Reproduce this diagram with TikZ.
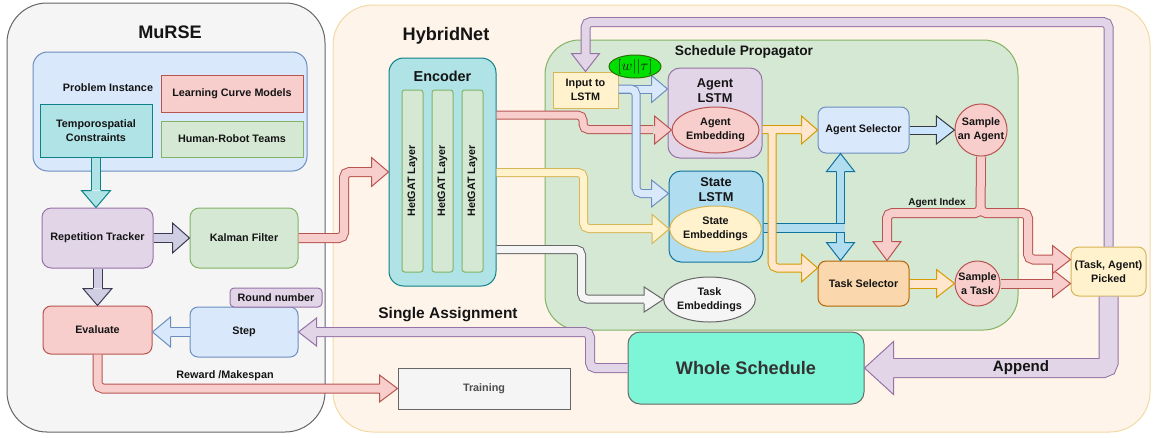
\documentclass[tikz,border=0pt]{standalone}
\usepackage{fontspec}
\setmainfont{Liberation Sans}
\usetikzlibrary{shapes.geometric,calc}

\definecolor{txt}{HTML}{141414}
\definecolor{gtxt}{HTML}{4D4D4D}
\definecolor{grF}{HTML}{F5F5F5}
\definecolor{grD}{HTML}{666666}
\definecolor{hyF}{HTML}{FFF4E9}
\definecolor{hyD}{HTML}{F3D9A4}
\definecolor{blueF}{HTML}{DAE8FC}
\definecolor{blueD}{HTML}{6C8EBF}
\definecolor{redF}{HTML}{F8CECC}
\definecolor{redD}{HTML}{B85450}
\definecolor{greenF}{HTML}{D5E8D4}
\definecolor{greenD}{HTML}{82B366}
\definecolor{tealF}{HTML}{B0E3E6}
\definecolor{tealD}{HTML}{0E8088}
\definecolor{purF}{HTML}{E1D5E7}
\definecolor{purD}{HTML}{9673A6}
\definecolor{yelF}{HTML}{FFF2CC}
\definecolor{yelD}{HTML}{D6B656}
\definecolor{oraF}{HTML}{FFE6CC}
\definecolor{oraD}{HTML}{D79B00}
\definecolor{tsF}{HTML}{FAD7AC}
\definecolor{tsD}{HTML}{B46504}
\definecolor{stF}{HTML}{B1DDF0}
\definecolor{stD}{HTML}{10739E}
\definecolor{lavF}{HTML}{D0CEE2}
\definecolor{lavD}{HTML}{3C3A52}
\definecolor{selF}{HTML}{CCE5FF}
\definecolor{selD}{HTML}{36393D}
\definecolor{wsF}{HTML}{7DF6D7}
\definecolor{wsT}{HTML}{333333}
\definecolor{wtF}{HTML}{00E000}
\definecolor{wtD}{HTML}{2D6E0A}

\newcommand\lbl{\fontsize{8.1}{10.5}\selectfont\bfseries}
% fat connector body: outline pass, then fill pass (#1 fill, #2 outline, #3 width in px, #4 path)
\newcommand\shaft[4]{%
  \draw[#2,line width=#3*0.75pt,rounded corners=4pt] #4;
  \draw[#1,line width=#3*0.75pt-1.5pt,rounded corners=4pt] #4;}
% block arrow head (#1 fill, #2 outline, #3 tip, #4 direction, #5 length, #6 half width, #7 half body width)
\newcommand\bhead[7]{%
  \begin{scope}[shift={#3},rotate=#4]
    \fill[#1] (0,0) -- (-#5,#6) -- (-#5,-#6) -- cycle;
    \draw[#2,line width=0.75pt,line join=miter] (-#5,#7) -- (-#5,#6) -- (0,0) -- (-#5,-#6) -- (-#5,-#7);
  \end{scope}}

\begin{document}
\begin{tikzpicture}[x=0.75pt,y=-0.75pt,
  box/.style={draw, align=center, inner sep=0pt, font=\lbl, text=txt, line width=0.75pt},
  sz/.style 2 args={minimum width=#1*0.75pt, minimum height=#2*0.75pt},
  lab/.style={font=\lbl, text=txt, align=center, inner sep=0pt},
  ttl/.style={font=\fontsize{13.6}{16}\selectfont\bfseries, text=txt, inner sep=0pt},
  sub/.style={font=\fontsize{9.6}{11.3}\selectfont\bfseries, text=txt, align=center, inner sep=0pt}]
\useasboundingbox (0,0) rectangle (1155,437);

% containers
\node[box, sz={318}{429}, fill=grF, draw=grD, rounded corners=30pt] (murse) at (166,217.5) {};
\node[ttl] (murseT) at (170,32) {MuRSE};
\node[box, sz={817}{427}, fill=hyF, draw=hyD, rounded corners=30pt] (hyb) at (741.5,218.5) {};
\node[ttl] (hybT) at (446,36) {HybridNet};

% MuRSE
\node[box, sz={274}{119}, fill=blueF, draw=blueD, rounded corners=11pt] (pi) at (170,111.5) {};
\node[lab] (piT) at (108,88) {Problem Instance};
\node[box, sz={142}{37}, fill=redF, draw=redD] (lcm) at (232,93.5) {Learning Curve Models};
\node[box, sz={142}{36}, fill=greenF, draw=greenD] (hrt) at (232,139) {Human-Robot Teams};
\node[box, sz={112}{53}, fill=tealF, draw=tealD] (tc) at (96,130.5) {Temporospatial\\Constraints};
\node[box, sz={111}{60}, fill=purF, draw=purD, rounded corners=7pt] (rt) at (97.5,238) {Repetition Tracker};
\node[box, sz={108}{60}, fill=greenF, draw=greenD, rounded corners=7pt] (kf) at (244,238) {Kalman Filter};
\node[box, sz={109}{48}, fill=redF, draw=redD, rounded corners=6pt] (ev) at (97.5,330) {Evaluate};
\node[box, sz={108}{50}, fill=blueF, draw=blueD, rounded corners=6pt] (st) at (244,332) {Step};
\node[box, sz={92}{19}, fill=purF, draw=purD, rounded corners=3pt] (rn) at (276,297.5) {Round number};
\node[box, sz={172}{41}, fill=grF, draw=grD, text=gtxt] (tr) at (484,388.5) {Training};

% encoder
\node[box, sz={107}{228}, fill=tealF, draw=tealD, rounded corners=11pt] (enc) at (442.5,172) {};
\node[font=\fontsize{10.8}{13}\selectfont\bfseries, text=txt, inner sep=0pt] (encT) at (442.5,76) {Encoder};
\foreach \i/\x in {1/412.5,2/442.5,3/472.5}
  \node[box, rotate=90, sz={182}{21}, fill=greenF, draw=greenD, rounded corners=2pt] (hg\i) at (\x,181) {HetGAT Layer};

% schedule propagator
\node[box, sz={473}{290}, fill=greenF, draw=greenD, rounded corners=26pt] (sp) at (781.5,185) {};
\node[font=\fontsize{10.3}{12}\selectfont\bfseries, text=txt, inner sep=0pt] (spT) at (744,52) {Schedule Propagator};
\node[box, sz={65}{36}, fill=yelF, draw=yelD] (in) at (585.5,90) {Input to\\LSTM};
\node[box, sz={94}{90}, fill=purF, draw=purD, rounded corners=9pt] (al) at (715,113) {};
\node[sub] (alT) at (715,90.5) {Agent\\LSTM};
\node[box, ellipse, sz={87}{46}, fill=redF, draw=redD] (ae) at (715.5,130) {Agent\\Embedding};
\node[box, sz={94}{91}, fill=stF, draw=stD, rounded corners=9pt] (sl) at (716,216.5) {};
\node[sub] (slT) at (716,189.5) {State\\LSTM};
\node[box, ellipse, sz={87}{46}, fill=yelF, draw=yelD] (se) at (715.5,229) {State\\Embeddings};
\node[box, ellipse, sz={85}{45}, fill=grF, draw=grD] (te) at (709.5,299.5) {Task\\Embeddings};
\node[box, sz={91}{46}, fill=blueF, draw=blueD, rounded corners=6pt] (as) at (863.5,130) {Agent Selector};
\node[box, circle, minimum size=52*0.75pt, fill=redF, draw=redD] (sa) at (981,130) {Sample\\an Agent};
\node[box, sz={91}{45}, fill=tsF, draw=tsD, rounded corners=6pt] (ts) at (863.5,283.5) {Task Selector};
\node[box, circle, minimum size=45*0.75pt, fill=redF, draw=redD] (sk) at (977.5,283.5) {Sample\\a Task};
\node[box, sz={75}{49}, fill=yelF, draw=yelD, rounded corners=6pt] (pk) at (1108.5,271.5) {(Task, Agent)\\Picked};
\node[box, sz={236}{72}, fill=wsF, draw=grD, rounded corners=9pt, font=\fontsize{13.6}{16}\selectfont\bfseries, text=wsT] (ws) at (746,368) {Whole Schedule};

% --- connectors inside MuRSE
\shaft{tealF}{tealD}{10}{(tc.south) -- (96,190)}
\bhead{tealF}{tealD}{(tc.south |- rt.north)}{-90}{17}{14.5}{4.5}
\shaft{lavF}{lavD}{10}{(rt.east) -- (173,238)}
\bhead{lavF}{lavD}{(kf.west)}{0}{17}{15}{4.5}
\shaft{lavF}{lavD}{10}{(rt.south) -- (97.5,288)}
\bhead{lavF}{lavD}{(ev.north)}{-90}{17}{14.5}{4.5}
\shaft{blueF}{blueD}{10}{(st.west) -- (170,332)}
\bhead{blueF}{blueD}{(st.west -| ev.east)}{180}{18}{15}{4.5}

% Kalman filter to encoder, evaluate to training
\shaft{redF}{redD}{10}{(kf.east) -- (344,238) -- (344,172) -- (372,172)}
\bhead{redF}{redD}{(enc.west)}{0}{17}{14.5}{4.5}
\shaft{redF}{redD}{10}{(ev.south) -- (97.5,388.5) -- (380,388.5)}
\bhead{redF}{redD}{(tr.west)}{0}{18}{13.5}{4.5}

% whole schedule back to step
\shaft{purF}{purD}{10}{(ws.west) -- (590,368) -- (590,332) -- (316,332)}
\bhead{purF}{purD}{(st.east)}{180}{18}{14}{4.5}

% encoder outputs
\shaft{redF}{redD}{9}{(enc.east |- 0,115) -- (583,115) -- (583,129.5) -- (653,129.5)}
\bhead{redF}{redD}{(ae.west)}{0}{17}{14}{4}
\shaft{yelF}{yelD}{9}{(enc.east |- 0,172.5) -- (583.5,172.5) -- (583.5,228.5) -- (654,228.5)}
\bhead{yelF}{yelD}{(se.west)}{0}{17}{14.5}{4}
\shaft{grF}{grD}{9}{(enc.east |- 0,249.5) -- (581.5,249.5) -- (581.5,299) -- (648,299)}
\bhead{grF}{grD}{(te.west)}{0}{19}{12.5}{4}

% LSTM inputs
\shaft{blueF}{blueD}{9}{(in.east |- 0,89) -- (652,89)}
\bhead{blueF}{blueD}{(al.west |- 0,89)}{0}{16}{13.5}{4}
\shaft{blueF}{blueD}{9}{(in.east |- 0,89) -- (636,89) -- (636,193.5) -- (652,193.5)}
\bhead{blueF}{blueD}{(sl.west |- 0,193.5)}{0}{17}{13.5}{4}
\node[box, ellipse, inner sep=-4pt, sz={52}{23}, fill=wtF, draw=wtD] (wt) at (635,66.5) {\fontsize{11}{13}\selectfont$[w||\tau]$};

% state embeddings to both selectors
\shaft{stF}{stD}{9}{(840.5,171) -- (840.5,243)}
\bhead{stF}{stD}{(as.south -| 840.5,0)}{90}{18}{14}{4}
\bhead{stF}{stD}{(ts.north -| 840.5,0)}{-90}{18}{14}{4}
\shaft{stF}{stD}{10}{(sl.east |- 0,228) -- (845,228)}

% agent embedding to both selectors
\shaft{oraF}{oraD}{9}{(al.east |- 0,129.5) -- (801,129.5) (772,129.5) -- (772,268) -- (801,268)}
\bhead{oraF}{oraD}{(as.west)}{0}{16}{14}{4}
\bhead{oraF}{oraD}{(ts.west |- 0,268)}{0}{16}{14}{4}

% selectors to samplers
\shaft{selF}{selD}{9}{(as.east) -- (937,130)}
\bhead{selF}{selD}{(sa.west)}{0}{18}{14}{4}
\shaft{oraF}{oraD}{10}{(ts.east) -- (937,283.5)}
\bhead{oraF}{oraD}{(sk.west)}{0}{18}{14}{4.5}

% sampled task and agent index
\shaft{redF}{redD}{10}{(sk.east) -- (1053,283.5)}
\bhead{redF}{redD}{(pk.west |- 0,283.5)}{0}{18}{14}{4.5}
\shaft{redF}{redD}{10}{(sa.south) -- (980.5,213) -- (887,213) -- (887,242) (sa.south) -- (980.5,213) -- (1028,213) -- (1028,259.5) -- (1053,259.5)}
\bhead{redF}{redD}{(ts.north -| 887,0)}{-90}{19}{14}{4.5}
\bhead{redF}{redD}{(pk.west |- 0,259.5)}{0}{18}{14}{4.5}

% picked pair: loop back to LSTM input and append to schedule
\shaft{purF}{purD}{10}{(pk.north) -- (1108.5,22) -- (585.5,22) -- (585.5,54)}
\bhead{purF}{purD}{(in.north)}{-90}{18}{14}{4.5}
\shaft{purF}{purD}{20}{(pk.south) -- (1108.5,368) -- (893,368)}
\bhead{purF}{purD}{(ws.east)}{180}{29}{26.5}{9.5}

% labels
\node[font=\fontsize{11.6}{14}\selectfont\bfseries, text=txt, inner sep=0pt] (saL) at (448,315) {Single Assignment};
\node[font=\fontsize{11.3}{14}\selectfont\bfseries, text=txt, inner sep=0pt] (apL) at (1021,368) {Append};
\node[font=\fontsize{7.5}{9}\selectfont\bfseries, text=txt, inner sep=0pt] (aiL) at (937,203) {Agent Index};
\node[lab] (rwL) at (225,376) {Reward /Makespan};
\end{tikzpicture}
\end{document}
